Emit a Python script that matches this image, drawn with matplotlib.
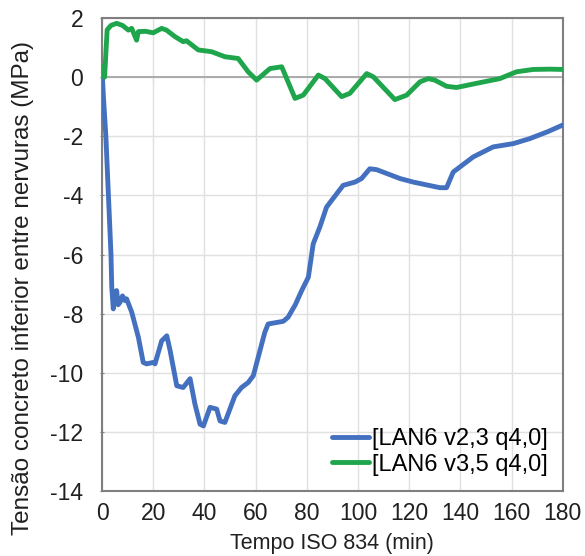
import matplotlib
matplotlib.use("Agg")
import matplotlib.pyplot as plt

plt.rcParams['font.family'] = ['Liberation Sans', 'DejaVu Sans']
plt.rcParams['axes.unicode_minus'] = False

t_blue = [0, 0.5, 1.5, 2.5, 3.5, 3.8, 4.4, 5.0, 5.7, 6.3, 7.0, 8.0, 9.0, 9.6, 11.6, 14.2, 16.1, 17.4,
          20.0, 20.7, 23.3, 25.3, 26.6, 29.2, 31.7, 34.4, 36.3, 38.3, 39.6, 42.2, 44.8, 46.1,
          48.0, 51.9, 54.5, 57.1, 59.1, 61.7, 63.6, 64.9, 70.8, 72.7, 75.5, 78.0, 80.6, 82.5,
          85.1, 87.7, 89.7, 94.2, 98.8, 101.4, 104.6, 107.3, 116.4, 121.6, 132.0, 134.6,
          137.2, 145.0, 152.8, 160.6, 167.1, 174.0, 180.0]
v_blue = [0.3, -0.6, -2.0, -4.0, -6.0, -7.1, -7.84, -7.3, -7.22, -7.7, -7.62, -7.4, -7.56, -7.5,
          -7.95, -8.8, -9.65, -9.7, -9.65, -9.7, -8.92, -8.75, -9.25, -10.44, -10.5, -10.2,
          -11.06, -11.74, -11.8, -11.17, -11.23, -11.63, -11.68, -10.78, -10.5, -10.33, -10.1,
          -9.25, -8.63, -8.35, -8.26, -8.12, -7.7, -7.22, -6.77, -5.64, -5.07, -4.4, -4.17,
          -3.66, -3.55, -3.43, -3.1, -3.13, -3.43, -3.55, -3.74, -3.74, -3.21, -2.7, -2.36,
          -2.25, -2.08, -1.85, -1.62]

t_green = [0, 1.0, 2.0, 3.5, 5.7, 8.0, 10.3, 11.6, 13.5, 14.2, 17.0, 20.0, 23.3, 25.2, 28.5,
           31.7, 33.0, 37.6, 42.8, 48.0, 53.2, 57.1, 60.4, 65.6, 70.2, 75.4, 78.6, 84.5, 87.1,
           93.6, 96.8, 103.4, 106.0, 114.4, 119.0, 124.2, 127.4, 130.0, 134.6, 138.5, 146.3,
           155.4, 161.9, 168.4, 175.0, 180.0]
v_green = [0.35, 0.0, 1.6, 1.75, 1.82, 1.75, 1.59, 1.65, 1.25, 1.54, 1.55, 1.5, 1.65, 1.59, 1.37,
           1.2, 1.23, 0.92, 0.86, 0.69, 0.63, 0.18, -0.1, 0.29, 0.35, -0.72, -0.61, 0.07, -0.05,
           -0.66, -0.55, 0.12, 0.01, -0.76, -0.61, -0.16, -0.05, -0.1, -0.31, -0.35, -0.21,
           -0.05, 0.18, 0.26, 0.27, 0.26]

label_blue = "[LAN6 v2,3 q4,0]"
label_green = "[LAN6 v3,5 q4,0]"
x_ticks = list(range(0, 181, 20))
y_ticks = list(range(-14, 3, 2))

fig = plt.figure(figsize=(5.85, 5.56), dpi=100)
ax = fig.add_axes([0.1744, 0.1169, 0.962 - 0.1744, 0.9676 - 0.1169])

ax.plot(t_blue, v_blue, color='#4470C0', lw=3.5, label=label_blue, solid_capstyle='round', zorder=3)
ax.plot(t_green, v_green, color='#1FA64C', lw=3.5, label=label_green, solid_capstyle='round', zorder=3)

ax.set_xlim(0, 180)
ax.set_ylim(-14, 2)
ax.set_xticks(x_ticks)
ax.set_yticks(y_ticks)
ax.grid(True, color='#E0E0E0', lw=1.0)
ax.set_axisbelow(True)
for s in ax.spines.values():
    s.set_color('#7F7F7F')
    s.set_linewidth(1.5)

ax.axhline(0, color='#A0A0A0', lw=1.2, zorder=2)
sec = ax.secondary_xaxis((0 - (-14)) / 16)
sec.set_xticks(x_ticks)
sec.tick_params(direction='in', length=4, color='#A0A0A0', labelbottom=False, labeltop=False)
sec.spines['bottom'].set_visible(False)
sec.spines['top'].set_visible(False)
sec.set_xticklabels([])

ax.tick_params(axis='x', length=0, labelsize=16.5, pad=8, colors='#202020')
ax.tick_params(axis='y', length=3, direction='inout', labelsize=16.5, pad=12, colors='#202020', color='#7F7F7F')

ax.set_xlabel("Tempo ISO 834 (min)", fontsize=15.5, color='#202020', va='center')
ax.xaxis.set_label_coords(0.5, -0.112)
ax.set_ylabel("Tensão concreto inferior entre nervuras (MPa)", fontsize=17.5, color='#202020', va='center')
ax.yaxis.set_label_coords(-0.172, 0.43)

ax.legend(loc='lower right', frameon=False, fontsize=17, handlelength=1.6, handletextpad=0.1,
          borderaxespad=0.25, labelspacing=0.15)

fig.savefig("out.png", dpi=100)
